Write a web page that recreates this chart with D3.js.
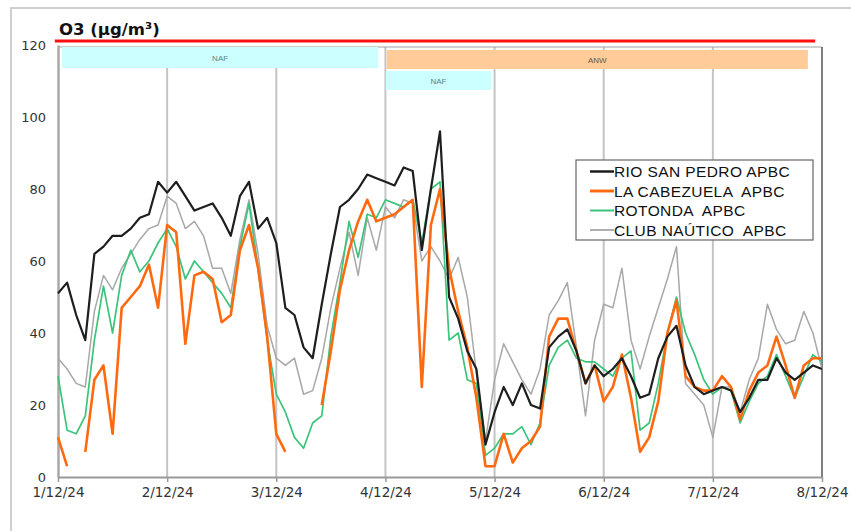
<!DOCTYPE html>
<html><head><meta charset="utf-8">
<script src="https://cdn.jsdelivr.net/npm/d3@7/dist/d3.min.js"></script>
<style>body{margin:0;background:#fff}svg{display:block}</style>
</head><body><svg id="chart" width="851" height="531"></svg>
<script>
// ---------- data ----------
const title = "O3 (µg/m³)";
const dayLabels = ["1/12/24","2/12/24","3/12/24","4/12/24","5/12/24","6/12/24","7/12/24","8/12/24"];
const yTicks = [0,20,40,60,80,100,120];
const stepHours = 2; // one value every 2 hours, from 1/12/24 00:00
const seriesNames = ["RIO SAN PEDRO APBC","LA CABEZUELA  APBC","ROTONDA  APBC","CLUB NAÚTICO  APBC"];
const rioSanPedro = [51,54,45,38,62,64,67,67,69,72,73,82,79,82,78,74,75,76,72,67,78,82,69,72,65,47,45,36,33,48,62,75,77,80,84,83,82,81,86,85,63,80,96,50,44,35,30,9,18,25,20,26,20,19,36,39,41,35,26,31,28,30,33,28,22,23,33,39,42,31,25,23,24,25,24,18,22,27,27,33,29,27,29,31,30];
const laCabezuela = [11,3,null,7,27,31,12,47,50,53,59,47,70,68,37,56,57,55,43,45,63,70,58,39,12,7,null,null,null,20,35,52,63,71,77,71,72,73,75,77,25,70,80,58,46,36,22,3,3,12,4,8,10,14,39,44,44,35,26,31,21,25,34,22,7,11,21,40,49,28,25,24,24,28,25,16,24,29,31,39,31,22,31,33,33];
const rotonda = [28,13,12,17,38,53,40,56,63,57,60,65,69,64,55,60,57,54,51,47,64,76,58,38,23,18,11,8,15,17,39,54,71,61,73,72,77,76,75,77,65,80,82,38,40,27,26,6,8,12,12,14,9,15,31,36,38,33,32,32,30,28,33,35,13,15,26,40,50,40,34,27,23,25,24,15,21,26,28,34,28,22,28,34,32];
const clubNautico = [33,30,26,25,46,56,52,58,62,66,69,70,78,76,69,71,67,58,58,51,66,77,62,42,33,31,33,23,24,33,47,58,68,56,72,63,75,72,77,76,60,64,60,55,61,50,29,10,27,37,32,27,23,30,45,49,54,36,17,38,48,47,58,38,30,39,47,55,64,26,23,20,11,25,25,18,27,33,48,41,37,38,46,40,30];
const threshold = 120;
const thresholdSpan = [-0.7, 166.5];          // hours
const bandLabels = ["NAF","ANW","NAF"];
const bandStart  = [0.9, 72.3, 72.1];          // hours
const bandEnd    = [70.4, 164.9, 95.2];        // hours

// ---------- styles ----------
const seriesColors = ["#1e1e1e","#ff6a10","#3cc47a","#a8a8a8"];
const seriesWidths = [2.2, 2.6, 1.7, 1.5];
const bandFills = ["#ccffff","#ffcc99","#ccffff"];
const bandRows = [[47,68],[50,69],[71,90]];

const svg = d3.select("#chart");
const W = 851, H = 531;
const x = d3.scaleLinear().domain([0, 168]).range([58, 822]);
const y = d3.scaleLinear().domain([0, 120]).range([477, 45]);
const plotTop = 47;

// outer frame
svg.append("rect").attr("x",11).attr("y",8).attr("width",W+20).attr("height",H+20)
  .attr("fill","none").attr("stroke","#cfcfcf").attr("stroke-width",2);

// title
svg.append("text").attr("x",59).attr("y",35).text(title)
  .attr("font-family","DejaVu Sans, Verdana, sans-serif").attr("font-weight","bold")
  .attr("font-size",16.5).attr("fill","#111");

// vertical gridlines
const days = d3.range(dayLabels.length);
svg.append("g").selectAll("line").data(days.slice(1,-1)).join("line")
  .attr("x1",d=>x(d*24)).attr("x2",d=>x(d*24))
  .attr("y1",y(0)).attr("y2",plotTop)
  .attr("stroke","#c4c4c4").attr("stroke-width",2);

// plot top and right border
svg.append("line").attr("x1",x(0)).attr("x2",x(168)).attr("y1",plotTop).attr("y2",plotTop)
  .attr("stroke","#a0a0a0").attr("stroke-width",1);
svg.append("line").attr("x1",x(168)).attr("x2",x(168)).attr("y1",plotTop).attr("y2",y(0))
  .attr("stroke","#555").attr("stroke-width",1.5);

// bands
const bands = bandLabels.map((l,i)=>({label:l,s:bandStart[i],e:bandEnd[i],i}));
const bg = svg.append("g");
bg.selectAll("rect").data(bands).join("rect")
  .attr("x",d=>x(d.s)).attr("width",d=>x(d.e)-x(d.s))
  .attr("y",d=>bandRows[d.i][0]).attr("height",d=>bandRows[d.i][1]-bandRows[d.i][0])
  .attr("fill",d=>bandFills[d.i]);
bg.selectAll("text").data(bands).join("text")
  .attr("x",d=>(x(d.s)+x(d.e))/2).attr("y",d=>(bandRows[d.i][0]+bandRows[d.i][1])/2+3)
  .attr("text-anchor","middle").attr("font-family","Liberation Sans, Arial, sans-serif")
  .attr("font-size",8).attr("fill",d=>d.label==="ANW"?"#6a5540":"#5f7f80").text(d=>d.label);

// threshold line
svg.append("line").attr("x1",x(thresholdSpan[0])).attr("x2",x(thresholdSpan[1]))
  .attr("y1",y(threshold)-4).attr("y2",y(threshold)-4)
  .attr("stroke","#ff1010").attr("stroke-width",3);

// axes
const yAxis = d3.axisLeft(y).tickValues(yTicks).tickSize(0).tickPadding(12);
const gy = svg.append("g").attr("transform",`translate(${x(0)},0)`).call(yAxis);
gy.select(".domain").attr("stroke","#a8a8a8").attr("stroke-width",2.5);
gy.selectAll("text").attr("font-family","DejaVu Sans, Verdana, sans-serif").attr("font-size",13).attr("fill","#333");

const xAxis = d3.axisBottom(x).tickValues(days.map(d=>d*24)).tickFormat((d,i)=>dayLabels[i]).tickSize(5).tickPadding(5).tickSizeOuter(0);
const gx = svg.append("g").attr("transform",`translate(0,${y(0)})`).call(xAxis);
gx.select(".domain").attr("stroke","#999").attr("stroke-width",2);
gx.selectAll(".tick line").attr("stroke","#999").attr("stroke-width",1.5);
gx.selectAll("text").attr("font-family","DejaVu Sans, Verdana, sans-serif").attr("font-size",13.5).attr("fill","#333");

// series
const allSeries = [rioSanPedro, laCabezuela, rotonda, clubNautico];
const line = d3.line().defined(d=>d!=null).x((d,i)=>x(i*stepHours)).y(d=>y(d));
const drawOrder = [3,2,1,0];
drawOrder.forEach(i=>{
  svg.append("path").datum(allSeries[i]).attr("d",line)
    .attr("fill","none").attr("stroke",seriesColors[i]).attr("stroke-width",seriesWidths[i])
    .attr("stroke-linejoin","round");
});

// legend
const lg = svg.append("g").attr("transform","translate(576,160)");
lg.append("rect").attr("width",237).attr("height",80).attr("fill","#fff")
  .attr("stroke","#666").attr("stroke-width",1.2);
seriesNames.forEach((n,i)=>{
  const yy = 11.5 + i*19.5;
  lg.append("line").attr("x1",14).attr("x2",38).attr("y1",yy).attr("y2",yy)
    .attr("stroke",seriesColors[i]).attr("stroke-width",seriesWidths[i]+0.3);
  lg.append("text").attr("x",38).attr("y",yy+5.5).text(n)
    .attr("font-family","Liberation Sans, Arial, sans-serif").attr("font-size",15.5)
    .attr("letter-spacing",0.4).attr("fill","#111").style("white-space","pre");
});
</script></body></html>
